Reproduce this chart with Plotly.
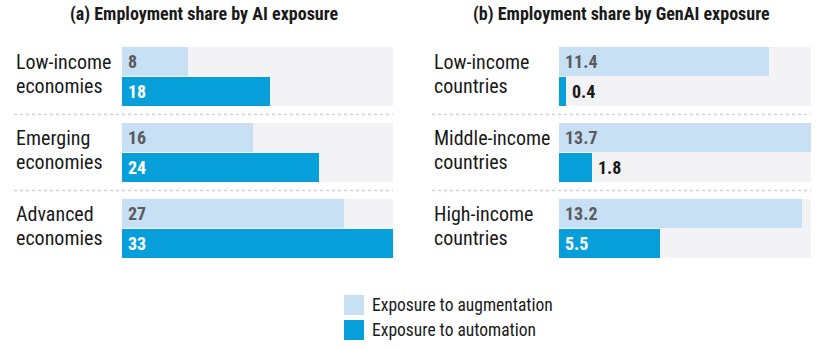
import plotly.graph_objects as go

# ---- data ----
titles = ["(a) Employment share by AI exposure", "(b) Employment share by GenAI exposure"]
cats_a = [["Low-income", "economies"], ["Emerging", "economies"], ["Advanced", "economies"]]
cats_b = [["Low-income", "countries"], ["Middle-income", "countries"], ["High-income", "countries"]]
aug_a = [8, 16, 27]
auto_a = [18, 24, 33]
aug_b = [11.4, 13.7, 13.2]
auto_b = [0.4, 1.8, 5.5]
series_names = ["Exposure to augmentation", "Exposure to automation"]

# ---- styles ----
W, H = 833, 350
FONT = "Roboto Condensed, Arial, sans-serif"
C_BG = "#f3f3f5"
C_AUG = "#c7e0f4"
C_AUTO = "#079fd9"
C_TXT = "#1a1a1a"
C_VAL_AUG = "#5a5a5f"

PX_PER_UNIT = 76.0
FIRST_CENTER_PX = 76.5
y_top = -FIRST_CENTER_PX / PX_PER_UNIT
y_bot = (H - FIRST_CENTER_PX) / PX_PER_UNIT
BAR_W = 0.39
OFF = 0.197
LINE_SHIFTS = [14.2, -9.8]  # px (positive = up)

panels = [
    dict(cats=cats_a, aug=aug_a, auto=auto_a, xa="x", dom=(122 / W, 393 / W), lab_x=14 / W, fmt="{:g}"),
    dict(cats=cats_b, aug=aug_b, auto=auto_b, xa="x2", dom=(559 / W, 811 / W), lab_x=432 / W, fmt="{:.1f}"),
]

fig = go.Figure()
annotations = []
shapes = []

for k, p in enumerate(panels):
    n = len(p["cats"])
    idx = list(range(n))
    xmax = max(max(p["aug"]), max(p["auto"]))
    # background bars
    fig.add_trace(go.Bar(x=[xmax] * n, y=idx, orientation="h", width=BAR_W * 2 + 0.005,
                         marker=dict(color=C_BG, line=dict(width=0)), xaxis=p["xa"], yaxis="y",
                         showlegend=False, hoverinfo="skip"))
    fig.add_trace(go.Bar(x=p["aug"], y=[i - OFF for i in idx], orientation="h", width=BAR_W,
                         marker=dict(color=C_AUG, line=dict(width=0)), xaxis=p["xa"], yaxis="y",
                         name=series_names[0], showlegend=False))
    fig.add_trace(go.Bar(x=p["auto"], y=[i + OFF for i in idx], orientation="h", width=BAR_W,
                         marker=dict(color=C_AUTO, line=dict(width=0)), xaxis=p["xa"], yaxis="y",
                         name=series_names[1], showlegend=False))
    xref = p["xa"]
    for i in idx:
        # category label (two lines)
        for line_txt, ys in zip(p["cats"][i], LINE_SHIFTS):
            annotations.append(dict(x=p["lab_x"], xref="paper", y=i, yref="y", text=line_txt,
                                    xanchor="left", yanchor="middle", showarrow=False, yshift=ys,
                                    font=dict(family=FONT, size=20, color=C_TXT)))
        # value labels
        for val, dy, inside_col in ((p["aug"][i], -OFF, C_VAL_AUG), (p["auto"][i], OFF, "white")):
            inside = val / xmax > 0.15
            annotations.append(dict(x=0 if inside else val, xref=xref, y=i + dy, yref="y",
                                    text="<b>" + p["fmt"].format(val) + "</b>", xanchor="left",
                                    yanchor="middle", showarrow=False, xshift=4,
                                    font=dict(family=FONT, size=18,
                                              color=inside_col if inside else C_TXT)))
        # separators
        if i < n - 1:
            shapes.append(dict(type="line", xref="paper", yref="y", x0=p["lab_x"], x1=p["dom"][1],
                               y0=i + 0.5, y1=i + 0.5, line=dict(color="#d2d2d6", width=1.5, dash="dot")))
    # panel title
    annotations.append(dict(x=(p["lab_x"] + p["dom"][1]) / 2, xref="paper", y=1 - 14 / H, yref="paper",
                            text="<b>" + titles[k] + "</b>", xanchor="center", yanchor="middle",
                            showarrow=False, font=dict(family=FONT, size=18, color=C_TXT)))

# legend (custom)
for j, (nm, col) in enumerate(zip(series_names, [C_AUG, C_AUTO])):
    y0 = 295 + j * 25
    shapes.append(dict(type="rect", xref="paper", yref="paper", x0=344 / W, x1=364 / W,
                       y0=1 - (y0 + 20) / H, y1=1 - y0 / H, fillcolor=col, line=dict(width=0)))
    annotations.append(dict(x=370 / W, xref="paper", y=1 - (y0 + 10) / H, yref="paper", text=nm,
                            xanchor="left", yanchor="middle", showarrow=False,
                            font=dict(family=FONT, size=17.5, color=C_TXT)))

fig.update_layout(
    width=W, height=H, margin=dict(l=0, r=0, t=0, b=0),
    paper_bgcolor="white", plot_bgcolor="rgba(0,0,0,0)",
    barmode="overlay", bargap=0,
    xaxis=dict(domain=list(panels[0]["dom"]), range=[0, max(aug_a + auto_a)], visible=False, fixedrange=True),
    xaxis2=dict(domain=list(panels[1]["dom"]), range=[0, max(aug_b + auto_b)], visible=False, fixedrange=True),
    yaxis=dict(domain=[0, 1], range=[y_bot, y_top], visible=False, fixedrange=True),
    annotations=annotations, shapes=shapes, showlegend=False,
)

fig.write_html("out.html")
